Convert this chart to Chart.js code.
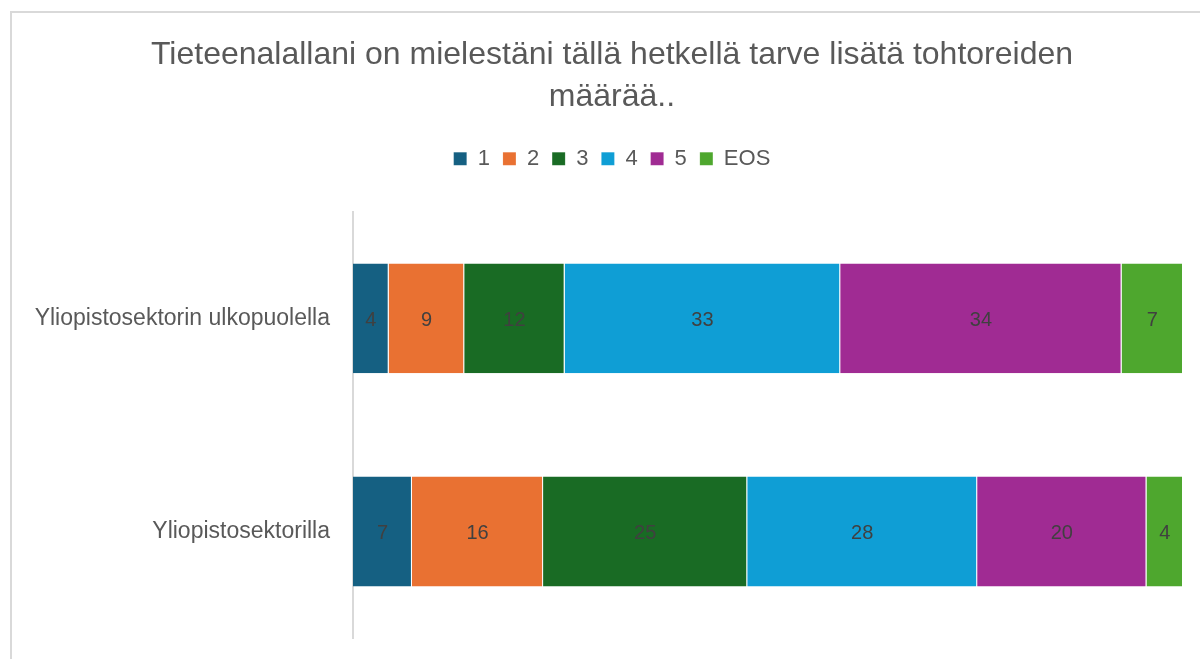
<!DOCTYPE html>
<html>
<head>
<meta charset="utf-8">
<script src="https://cdn.jsdelivr.net/npm/chart.js@4"></script>
<style>
html, body { margin: 0; padding: 0; background: #fff; overflow: hidden; }
#wrap { position: relative; width: 1200px; height: 659px; }
#frame { position: absolute; left: 10px; top: 11px; width: 1250px; height: 700px; border: 2px solid #d9d9d9; pointer-events: none; }
canvas { position: absolute; left: 0; top: 0; }
</style>
</head>
<body>
<div id="wrap">
  <div id="frame"></div>
  <canvas id="chart" width="1200" height="659"></canvas>
</div>
<script>
// kyselyn vastaukset (%), vastaajaryhmittäin
const groups = ['Yliopistosektorin ulkopuolella', 'Yliopistosektorilla'];
const answers = ['1', '2', '3', '4', '5', 'EOS'];
const vals1 = [4.3, 7.1];
const vals2 = [9.1, 15.8];
const vals3 = [12.1, 24.6];
const vals4 = [33.2, 27.7];
const vals5 = [33.9, 20.4];
const valsEOS = [7.4, 4.4];
const colors = ['#156082', '#E97132', '#196B24', '#0F9ED5', '#A02B93', '#4EA72E'];

const series = [vals1, vals2, vals3, vals4, vals5, valsEOS];

const FONT = "'Liberation Sans', Arial, sans-serif";
const grey = '#595959';

// arvot (pyöristettynä) palkkien keskelle
const valueLabels = {
    id: 'valueLabels',
    afterDatasetsDraw(chart) {
        const ctx = chart.ctx;
        ctx.save();
        ctx.font = '20px ' + FONT;
        ctx.fillStyle = '#404040';
        ctx.textAlign = 'center';
        ctx.textBaseline = 'middle';
        chart.data.datasets.forEach((ds, di) => {
            const meta = chart.getDatasetMeta(di);
            meta.data.forEach((bar, i) => {
                const x = (bar.x + bar.base) / 2;
                ctx.fillText(String(Math.round(ds.data[i])), x, bar.y + 2);
            });
        });
        ctx.restore();
    }
};

const chartData = {
    labels: groups,
    datasets: answers.map((a, k) => ({
        label: a,
        data: series[k],
        backgroundColor: colors[k],
        borderColor: 'rgba(255,255,255,0.4)',
        borderWidth: { left: 0, right: 1, top: 0, bottom: 0 },
        borderSkipped: false,
        categoryPercentage: 1,
        barPercentage: 0.516
    }))
};

const config = {
    type: 'bar',
    data: chartData,
    options: {
        indexAxis: 'y',
        responsive: false,
        animation: false,
        layout: { padding: { left: 41, right: 17, top: 0, bottom: 21 } },
        plugins: {
            title: {
                display: true,
                text: ['Tieteenalallani on mielestäni tällä hetkellä tarve lisätä tohtoreiden', 'määrää..'],
                color: grey,
                font: { family: FONT, size: 32, weight: 'normal', lineHeight: 1.31 },
                padding: { top: 34, bottom: 17 }
            },
            legend: {
                display: true,
                position: 'top',
                labels: {
                    color: grey,
                    font: { family: FONT, size: 22 },
                    boxWidth: 13,
                    boxHeight: 13,
                    padding: 13
                }
            },
            tooltip: { enabled: false }
        },
        scales: {
            x: {
                stacked: true,
                position: 'top',
                min: 0,
                max: 100,
                ticks: { display: false },
                grid: { display: false },
                border: { display: false },
                afterFit(scale) { scale.height = 32; }
            },
            y: {
                stacked: true,
                grid: { display: false, drawTicks: false },
                border: { display: true, color: '#d9d9d9', width: 2 },
                ticks: {
                    color: grey,
                    font: { family: FONT, size: 23 },
                    padding: 23
                },
                afterFit(scale) {
                    scale.width = 312;
                    scale.paddingTop = 0;
                    scale.paddingBottom = 0;
                    // pitkä nimiö saa ulottua akselin laatikon vasemmalle puolelle
                    scale._computeLabelArea = () => undefined;
                }
            }
        }
    },
    plugins: [valueLabels]
};

const chart = new Chart(document.getElementById('chart'), config);
</script>
</body>
</html>
